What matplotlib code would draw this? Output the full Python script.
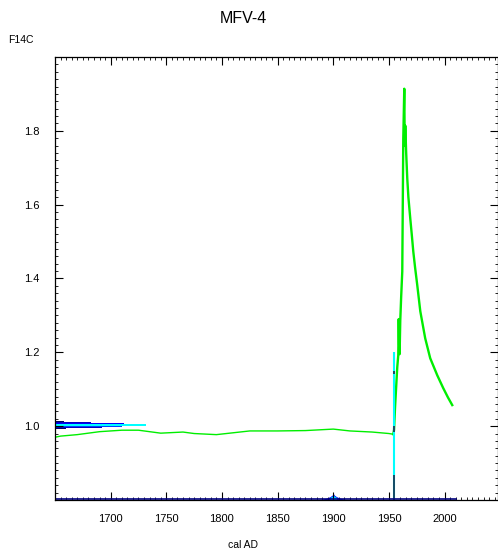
import matplotlib.pyplot as plt
import numpy as np

plt.rcParams['font.family'] = ['Liberation Sans', 'DejaVu Sans']

# F14C curve (green)
curve_year = [1650, 1655, 1670, 1690, 1710, 1725, 1735, 1745, 1765, 1775, 1795, 1810,
              1825, 1850, 1875, 1900, 1915, 1935, 1950, 1953.9, 1954.6, 1955.5, 1956.6,
              1957.5, 1958.4, 1958.8, 1959.2, 1959.6, 1960.2, 1961.0, 1962.0, 1962.9,
              1963.8, 1964.2, 1964.7, 1965.5, 1966.5, 1967.5, 1969.2, 1970.5, 1971.9,
              1973.5, 1975.5, 1978.2, 1982.6, 1987.1, 1993.4, 1998.8, 2003.0, 2006.9]
curve_f14c = [0.970, 0.973, 0.977, 0.985, 0.989, 0.989, 0.985, 0.981, 0.984, 0.980, 0.977, 0.982,
              0.987, 0.987, 0.988, 0.992, 0.987, 0.984, 0.980, 0.978, 0.990, 1.050, 1.111,
              1.160, 1.192, 1.290, 1.220, 1.195, 1.286, 1.350, 1.419, 1.778,
              1.914, 1.760, 1.814, 1.740, 1.670, 1.620, 1.562, 1.520, 1.473,
              1.430, 1.381, 1.311, 1.238, 1.184, 1.138, 1.103, 1.078, 1.057]
n_pre = 20  # points before the bomb rise

# measured F14C distribution (horizontal bars at left)
meas_level = [1.012, 1.009, 1.006, 1.003, 1.000, 0.997, 0.994]
meas_len = [8, 32, 62, 82, 60, 42, 10]
meas_col = ['#000060', '#0000c0', '#0000ff', '#00ffff', '#0040ff', '#0000c0', '#000060']

# calibrated date probability near 1900
hump_year = [1886, 1890, 1894, 1897, 1899, 1900, 1901, 1903, 1906, 1910, 1914]
hump_prob = [0.000, 0.002, 0.005, 0.009, 0.013, 0.018, 0.013, 0.009, 0.005, 0.002, 0.000]

fig = plt.figure(figsize=(4.98, 5.51), dpi=100)
ax = fig.add_axes([0.1104, 0.0926, 0.8896, 0.804])

ax.barh(meas_level, meas_len, left=1650, height=0.003, color=meas_col, linewidth=0)

ax.plot(curve_year[:n_pre], curve_f14c[:n_pre], color='#00ee00', lw=1.0)
ax.plot(curve_year[n_pre - 1:], curve_f14c[n_pre - 1:], color='#00ee00', lw=1.7)

ax.fill_between(hump_year, 0.8, 0.8 + np.array(hump_prob), color='#0000ff', lw=0)
ax.fill_between(hump_year[3:8], 0.8, 0.8 + np.array(hump_prob[3:8]) * 0.8, color='#00ddff', lw=0)

ax.vlines(1954.8, 0.8, 1.2, color='#00ffff', lw=1.5)
ax.vlines(1954.3, 0.8, 0.868, color='#1a2a4a', lw=1.2)
ax.vlines(1954.3, 1.14, 1.15, color='#1a2a4a', lw=1.2)
ax.vlines(1954.3, 0.985, 1.0, color='#1a2a4a', lw=1.2)
ax.plot([1650, 2010], [0.8015, 0.8015], color='#000080', lw=1.2)

ax.set_xlim(1650, 2048)
ax.set_ylim(0.8, 2.0)
ax.set_xticks([1700, 1750, 1800, 1850, 1900, 1950, 2000])
ax.set_xticks(np.arange(1650, 2049, 5), minor=True)
ax.set_yticks([1.0, 1.2, 1.4, 1.6, 1.8])
ax.set_yticks(np.arange(0.8, 2.001, 0.02), minor=True)
ax.yaxis.set_major_formatter(plt.FormatStrFormatter('%.1f'))
ax.tick_params(which='both', direction='in', top=True, right=True, labelsize=8)
ax.tick_params(axis='x', which='major', pad=10)
ax.tick_params(axis='y', which='major', pad=11)
ax.tick_params(which='major', length=6, width=0.8)
ax.tick_params(which='minor', length=2.5, width=0.6)
for s in ax.spines.values():
    s.set_linewidth(0.9)

fig.text(0.488, 0.967, 'MFV-4', ha='center', va='center', fontsize=11.5)
fig.text(0.016, 0.927, 'F14C', ha='left', va='center', fontsize=7.5)
fig.text(0.488, 0.011, 'cal AD', ha='center', va='center', fontsize=7.5)

fig.savefig('out.png', dpi=100)
